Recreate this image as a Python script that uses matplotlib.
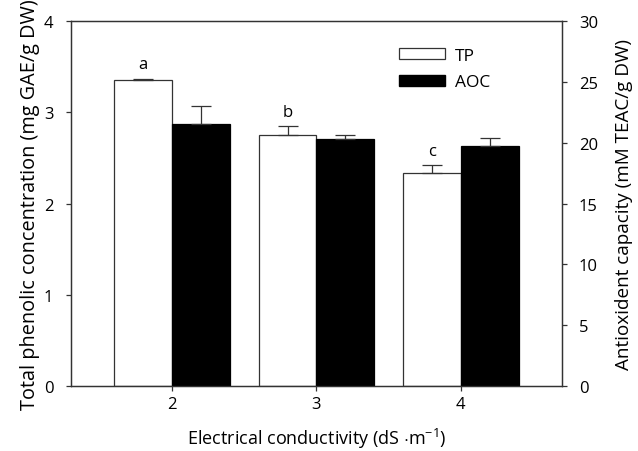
import numpy as np
import matplotlib
matplotlib.use('Agg')
import matplotlib.pyplot as plt
from matplotlib.patches import Patch

plt.rcParams['font.family'] = ['Open Sans', 'DejaVu Sans']
plt.rcParams['mathtext.fontset'] = 'custom'
plt.rcParams['mathtext.rm'] = 'Open Sans'
plt.rcParams['mathtext.it'] = 'Open Sans'
plt.rcParams['mathtext.default'] = 'rm'

# Electrical conductivity levels (dS/m)
ec = [2, 3, 4]

# Total phenolics (mg GAE/g DW), left axis
tp = [3.35, 2.75, 2.33]
tp_err = [0.02, 0.10, 0.09]
tp_letters = ['a', 'b', 'c']

# Antioxidant capacity (mM TEAC/g DW), right axis
aoc = [21.5, 20.3, 19.7]
aoc_err = [1.5, 0.35, 0.65]

width = 0.4
x = np.array(ec, dtype=float)

fig = plt.figure(figsize=(6.38, 4.52), dpi=100)
ax = fig.add_axes([0.111, 0.144, 0.770, 0.807])
ax2 = ax.twinx()

ekw = dict(ecolor='#333333', elinewidth=0.9, capsize=7, capthick=0.9)

# TP bars on left axis
ax.bar(x - width / 2, tp, width, color='white', edgecolor='#333333', linewidth=0.9,
       yerr=[[0] * len(tp), tp_err], error_kw=ekw, zorder=2)
for xi, yi, ei, lab in zip(x, tp, tp_err, tp_letters):
    ax.text(xi - width / 2, yi + ei + 0.07, lab, ha='center', va='bottom', fontsize=12)

# AOC bars on right axis
ax2.bar(x + width / 2, aoc, width, color='black', edgecolor='black', linewidth=0.9,
        yerr=[[0] * len(aoc), aoc_err], error_kw=ekw)

ax.set_xlim(1.3, 4.7)
ax.set_ylim(0, 4)
ax2.set_ylim(0, 30)
ax.set_xticks(ec)
ax.set_yticks(np.arange(0, 5, 1))
ax2.set_yticks(np.arange(0, 31, 5))

for a in (ax, ax2):
    for s in a.spines.values():
        s.set_color('#333333')
        s.set_linewidth(0.9)
    a.tick_params(direction='out', length=3.6, width=0.9, color='#333333', labelsize=12)
ax.tick_params(axis='x', pad=4)
ax.tick_params(axis='y', pad=9)
ax2.tick_params(axis='y', pad=8.5)

ax.set_xlabel('Electrical conductivity (dS $\\cdot$m$^{-1}$)', fontsize=13, labelpad=10)
ax.set_ylabel('Total phenolic concentration (mg GAE/g DW)', fontsize=14.3, labelpad=3)
ax2.set_ylabel('Antioxident capacity (mM TEAC/g DW)', fontsize=13.6, labelpad=12)

handles = [Patch(facecolor='white', edgecolor='#333333', linewidth=0.9, label='TP'),
           Patch(facecolor='black', edgecolor='black', label='AOC')]
ax.legend(handles=handles, loc='upper left', bbox_to_anchor=(0.637, 0.97), frameon=False,
          fontsize=12.5, handlelength=2.6, handleheight=0.6, handletextpad=0.6, labelspacing=0.6)

fig.savefig('out.png', dpi=100)
